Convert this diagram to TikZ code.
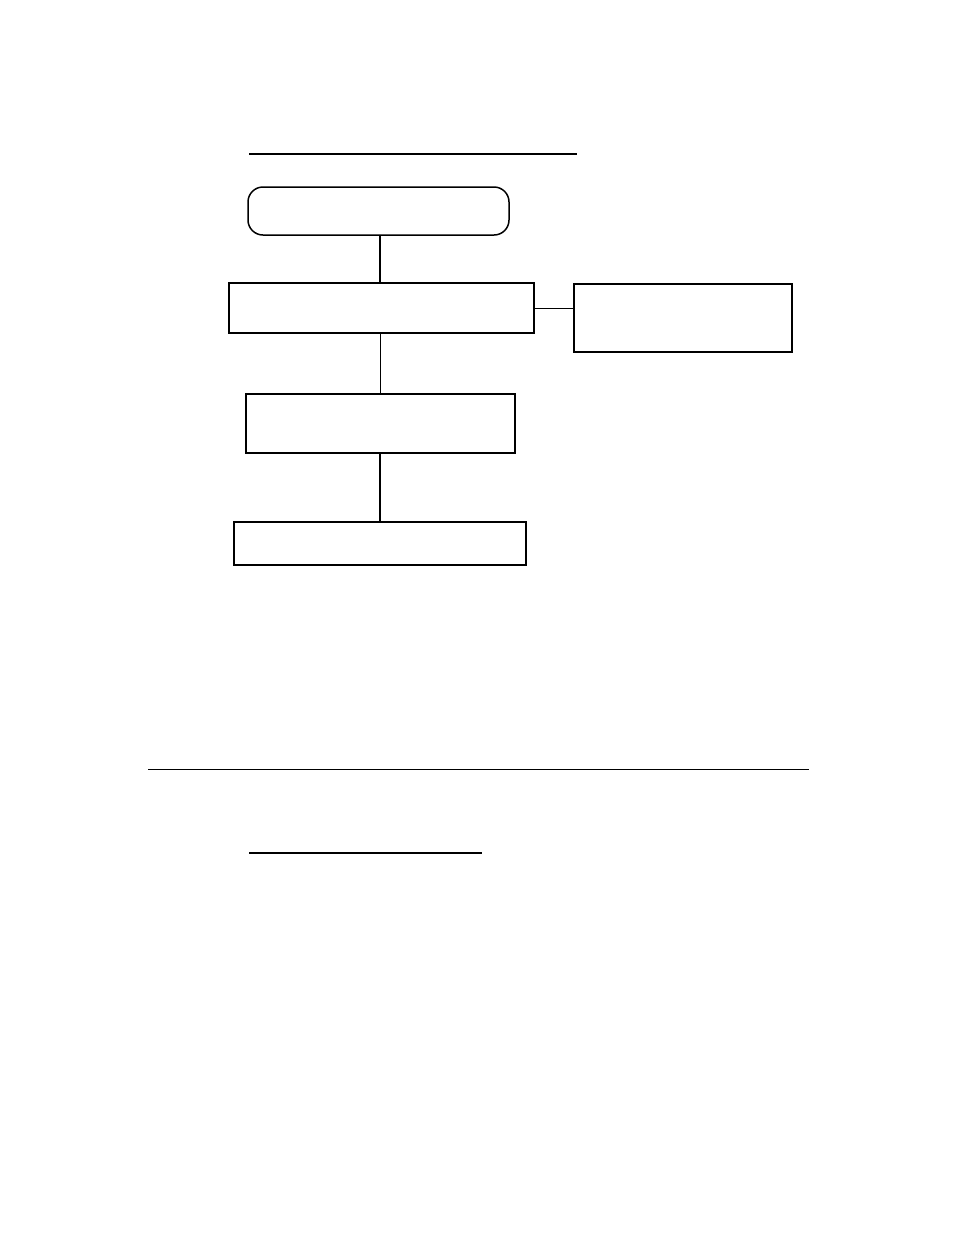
\documentclass[tikz,border=0pt]{standalone}
\begin{document}
\begin{tikzpicture}[x=1pt,y=-1pt,
                plainbox/.style={draw,rectangle,line width=1.5pt,inner sep=0pt},
                roundbox/.style={plainbox,rounded corners=15pt},
                thickline/.style={line width=2pt},
                thinline/.style={line width=0.9pt}]
                \useasboundingbox (0,0) rectangle (954,1235);
                %% heading rule
                \draw[thickline] (249,154) -- (577,154);
                %% boxes
                \node[roundbox,minimum width=261pt,minimum height=48pt] (start) at (378.5,211) {};
                \node[plainbox,minimum width=305pt,minimum height=50pt] (first) at (381.5,308) {};
                \node[plainbox,line width=2pt,minimum width=218pt,minimum height=68pt] (side) at (683,318) {};
                \node[plainbox,minimum width=269pt,minimum height=59pt] (second) at (380.5,423.5) {};
                \node[plainbox,minimum width=292pt,minimum height=43pt] (last) at (380,543.5) {};
                %% links
                \draw[thickline] (start.south -| 380,0) -- (first.north -| 380,0);
                \draw[thinline] (first.east) -- (first.east -| side.west);
                \draw[thinline] (first.south -| 380,0) -- (second.north -| 380,0);
                \draw[thickline] (second.south -| 380,0) -- (last.north -| 380,0);
                %% page rule and second heading
                \draw[thinline] (148,769) -- (809,769);
                \draw[line width=2.5pt] (249,853) -- (482,853);
            \end{tikzpicture}
\end{document}
